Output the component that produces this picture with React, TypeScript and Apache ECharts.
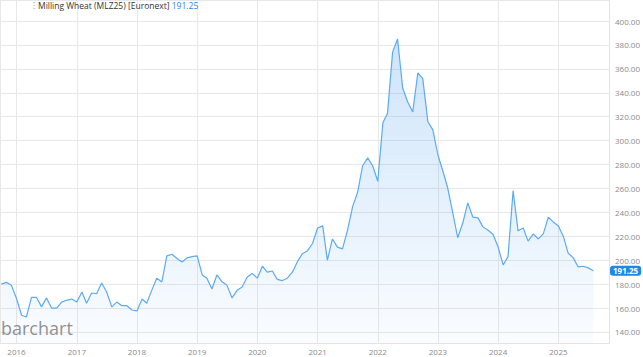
import React, { useEffect, useRef } from "react";
import * as echarts from "echarts";

// Monthly closes, first month = Oct 2015
const startYear = 2015;
const startMonth = 10;
const closes: number[] = [
  180, 181.5, 179, 168, 154, 152.5, 169, 169, 161, 168.5, 160, 160, 165, 166.5, 167.6,
  165, 173.5, 164, 172.6, 172, 181, 173.5, 161, 165, 162, 162, 158.4,
  157.6, 167.6, 164, 175, 185, 181.8, 203.6, 205, 201.5, 198.6, 202, 203,
  203.6, 187.7, 185, 176, 187.7, 182, 179, 168.5, 175, 177.7, 186, 189,
  185, 195, 190, 191, 184, 183, 185, 190, 199, 205.5, 208, 214,
  227, 228.7, 200, 217.8, 211, 209.5, 225, 244.6, 257, 279, 285.6, 279,
  266, 315, 323, 374, 385, 344, 332.5, 324, 356.6, 351.8, 315.8, 309,
  288, 274, 260.6, 239.7, 218.8, 231.3, 248, 236, 235.4, 227.9, 225, 221.8,
  211, 196, 203, 258, 224.6, 227, 216, 222, 217.8, 222, 236, 231.9,
  228.6, 219.5, 206, 202, 194.4, 195, 193.6, 191.25,
];
const titleText = "Milling Wheat (MLZ25) [Euronext] ";
const lastText = "191.25";
const axisMinDate = "2015-09-23";
const axisMaxDate = "2025-11-04";
const yMin = 130.8;
const yMax = 417.6;

function monthDate(i: number): string {
  const total = startMonth - 1 + i;
  const y = startYear + Math.floor(total / 12);
  const m = (total % 12) + 1;
  return `${y}-${m < 10 ? "0" + m : m}-01`;
}

export default function App() {
  const ref = useRef<HTMLDivElement>(null);
  useEffect(() => {
    if (!ref.current) return;
    const chart = echarts.init(ref.current, undefined, { renderer: "svg" });
    const data = closes.map((v, i) => [monthDate(i), v]);
    const font = "'Open Sans', 'Noto Sans', sans-serif";
    const yearMs = 365 * 24 * 3600 * 1000;
    chart.setOption({
      animation: false,
      backgroundColor: "#ffffff",
      grid: { left: 0, right: 29, top: 0, bottom: 14 },
      xAxis: {
        type: "time",
        min: axisMinDate,
        max: axisMaxDate,
        minInterval: yearMs,
        maxInterval: yearMs * 1.01,
        splitNumber: 10,
        axisLine: { show: true, lineStyle: { color: "#e3e3e3" } },
        axisTick: { show: false },
        axisLabel: {
          formatter: "{yyyy}",
          color: "#8a8a8a",
          fontSize: 8,
          fontFamily: font,
          margin: 4,
          showMinLabel: false,
          showMaxLabel: false,
        },
        splitLine: { show: true, lineStyle: { color: "#e8e8e8", width: 1 } },
      },
      yAxis: {
        type: "value",
        position: "right",
        min: yMin,
        max: yMax,
        splitNumber: 14,
        minInterval: 20,
        maxInterval: 20,
        axisLine: { show: true, lineStyle: { color: "#e3e3e3" } },
        axisTick: { show: false },
        axisLabel: {
          formatter: (v: number) => v.toFixed(2),
          color: "#8a8a8a",
          fontSize: 8,
          fontFamily: font,
          margin: 6,
          showMinLabel: false,
          showMaxLabel: false,
        },
        splitLine: { show: true, lineStyle: { color: "#e8e8e8", width: 1 } },
        axisPointer: {
          show: true,
          value: closes[closes.length - 1],
          status: "show",
          triggerTooltip: false,
          lineStyle: { opacity: 0 },
          label: {
            show: true,
            formatter: () => lastText,
            backgroundColor: "#1e88e5",
            color: "#ffffff",
            fontSize: 8,
            fontWeight: "bold",
            fontFamily: font,
            padding: [1, 3, 1, 3],
            margin: 1,
          },
        },
      },
      series: [
        {
          type: "line",
          data,
          showSymbol: false,
          symbol: "none",
          lineStyle: { color: "#5aabf5", width: 1.2 },
          areaStyle: {
            origin: "start",
            color: new echarts.graphic.LinearGradient(0, 0, 0, 1, [
              { offset: 0, color: "rgba(80,160,240,0.4)" },
              { offset: 1, color: "rgba(80,160,240,0.04)" },
            ]),
          },
        },
      ],
      graphic: [
        {
          type: "text",
          left: 1,
          top: 319,
          z: 10,
          style: {
            text: "barchart",
            fontSize: 18,
            fontFamily: font,
            fill: "rgba(125,125,125,0.85)",
          },
        },
        {
          type: "text",
          left: 33,
          top: 1,
          z: 10,
          style: {
            text: "⁝",
            fontSize: 8,
            fontFamily: font,
            fill: "#888",
          },
        },
        {
          type: "text",
          left: 38,
          top: 1,
          z: 10,
          style: {
            text: `{a|${titleText}}{b|${lastText}}`,
            rich: {
              a: { fontSize: 8.5, fontFamily: font, fill: "#333", color: "#333" },
              b: { fontSize: 8.5, fontFamily: font, fill: "#1e88e5", color: "#1e88e5" },
            },
          },
        },
      ],
    });
    return () => chart.dispose();
  }, []);
  return <div ref={ref} style={{ width: 643, height: 357, position: "fixed", left: 0, top: 0 }} />;
}
